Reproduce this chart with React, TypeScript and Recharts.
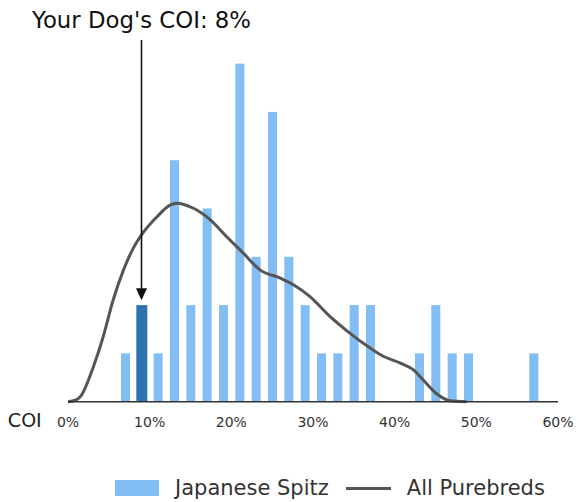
import { Bar, ComposedChart, Line, ReferenceLine, XAxis, YAxis } from "recharts";

// Japanese Spitz histogram (2% bins, centre of each bin)
const binCentres = [7, 9, 11, 13, 15, 17, 19, 21, 23, 25, 27, 29, 31, 33, 35, 37, 43, 45, 47, 49, 57];
const binCounts = [1, 2, 1, 5, 2, 4, 2, 7, 3, 6, 3, 2, 1, 1, 2, 2, 1, 2, 1, 1, 1];

// All purebreds density curve, scaled to the histogram
const curveCoi = [0, 0.9, 1.5, 3.1, 4.3, 5.5, 6.8, 8, 9.2, 10.9, 12.5, 13.3, 15.3, 17.4, 19.4, 21.5, 23.5, 26, 27.6, 29.6, 32.1, 34.5, 37, 38.6, 40.7, 42.3, 43.5, 45.1, 46.8, 48.8];
const curveDensity = [0, 0.03, 0.1, 0.72, 1.34, 2.09, 2.73, 3.18, 3.5, 3.83, 4.07, 4.11, 4.01, 3.77, 3.42, 3.07, 2.73, 2.56, 2.42, 2.18, 1.76, 1.42, 1.11, 0.94, 0.8, 0.66, 0.45, 0.17, 0.02, 0];

const xTicks = [0, 10, 20, 30, 40, 50, 60];

const dogBin = 9;
const dogLabel = "Your Dog's COI: 8%";
const legendNames = ["Japanese Spitz", "All Purebreds"];

const LIGHT = "#82bef4";
const DARK = "#2f72b0";
const CURVE = "#555555";
const FONT = "DejaVu Sans";

const barData = binCentres.map((x, i) => ({ x, count: binCounts[i] }));
const curveData = curveCoi.map((x, i) => ({ x, density: curveDensity[i] }));

function HistBar(props: any) {
  const { x, y, width, height, payload } = props;
  const mine = payload.x === dogBin;
  return (
    <rect
      x={mine ? x - 1 : x}
      y={y}
      width={mine ? width + 2 : width}
      height={height}
      fill={mine ? DARK : LIGHT}
    />
  );
}

function Arrow(props: any) {
  const { x1, y1, y2 } = props;
  return (
    <g>
      <text x={x1} y={y1 - 12} textAnchor="middle" fontSize={22.8} fontFamily={FONT} fill="#111">
        {dogLabel}
      </text>
      <line x1={x1} y1={y1} x2={x1} y2={y2 - 11} stroke="#111" strokeWidth={1.6} />
      <polygon points={`${x1 - 5.5},${y2 - 12} ${x1 + 5.5},${y2 - 12} ${x1},${y2}`} fill="#111" />
    </g>
  );
}

function ChartLegend() {
  return (
    <div
      style={{
        position: "absolute",
        left: 115,
        top: 476,
        display: "flex",
        alignItems: "center",
        fontFamily: FONT,
        fontSize: 21,
        color: "#333",
        whiteSpace: "nowrap",
      }}
    >
      <div style={{ width: 44, height: 16, background: LIGHT, marginRight: 16 }} />
      <span style={{ marginRight: 17 }}>{legendNames[0]}</span>
      <div style={{ width: 45, height: 3, background: CURVE, marginRight: 16 }} />
      <span>{legendNames[1]}</span>
    </div>
  );
}

export default function App() {
  return (
    <div style={{ position: "absolute", left: 0, top: 0, width: 579, height: 502 }}>
      <ComposedChart
        width={579}
        height={502}
        data={barData}
        margin={{ top: 15.3, right: 21, bottom: 70.3, left: 68 }}
      >
        <XAxis
          type="number"
          dataKey="x"
          domain={[0, 60]}
          ticks={xTicks}
          tickFormatter={(v) => `${v}%`}
          tickLine={false}
          tickMargin={9}
          axisLine={{ stroke: "#333", strokeWidth: 1.6 }}
          tick={{ fill: "#333", fontSize: 14, fontFamily: FONT }}
          label={({ viewBox }: any) => (
            <text
              x={viewBox.x - 26.3}
              y={viewBox.y + 25.7}
              textAnchor="end"
              fontSize={19}
              fontFamily={FONT}
              fill="#222"
            >
              COI
            </text>
          )}
        />
        <XAxis xAxisId="curve" type="number" dataKey="x" domain={[0, 60]} hide />
        <YAxis hide domain={[0, 8]} />
        <Bar
          dataKey="count"
          fill={LIGHT}
          barSize={9}
          shape={HistBar}
          isAnimationActive={false}
        />
        <Line
          xAxisId="curve"
          data={curveData}
          dataKey="density"
          type="monotone"
          stroke={CURVE}
          strokeWidth={3}
          dot={false}
          isAnimationActive={false}
        />
        <ReferenceLine
          segment={[
            { x: dogBin, y: 7.49 },
            { x: dogBin, y: 2.1 },
          ]}
          shape={Arrow}
        />
      </ComposedChart>
      <ChartLegend />
    </div>
  );
}
